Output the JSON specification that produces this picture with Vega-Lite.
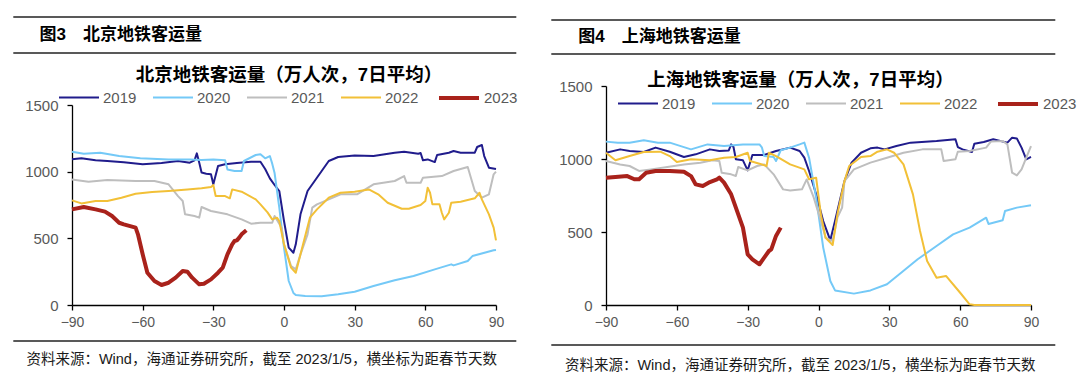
{
  "$schema": "https://vega.github.io/schema/vega-lite/v6.json",
  "padding": {"left": 12, "top": 16, "right": 0, "bottom": 0},
  "background": "white",
  "spacing": 32,
  "resolve": {"scale": {"color": "independent", "strokeWidth": "independent"}, "legend": {"color": "independent"}},
  "datasets": {
    "bj": [
      {"year":"2019","day":-90,"value":1093},{"year":"2019","day":-86,"value":1100},{"year":"2019","day":-80,"value":1085},{"year":"2019","day":-75,"value":1080},{"year":"2019","day":-68,"value":1070},{"year":"2019","day":-60,"value":1055},{"year":"2019","day":-52,"value":1065},{"year":"2019","day":-45,"value":1080},{"year":"2019","day":-40,"value":1067},{"year":"2019","day":-38,"value":1085},{"year":"2019","day":-37,"value":1137},{"year":"2019","day":-36,"value":1068},{"year":"2019","day":-35,"value":993},{"year":"2019","day":-33,"value":985},{"year":"2019","day":-31,"value":980},{"year":"2019","day":-30,"value":905},{"year":"2019","day":-28,"value":1042},{"year":"2019","day":-25,"value":1055},{"year":"2019","day":-20,"value":1065},{"year":"2019","day":-14,"value":1075},{"year":"2019","day":-10,"value":1075},{"year":"2019","day":-8,"value":1020},{"year":"2019","day":-6,"value":950},{"year":"2019","day":-4,"value":900},{"year":"2019","day":-2,"value":855},{"year":"2019","day":0,"value":630},{"year":"2019","day":2,"value":430},{"year":"2019","day":4,"value":392},{"year":"2019","day":5,"value":455},{"year":"2019","day":7,"value":680},{"year":"2019","day":10,"value":855},{"year":"2019","day":13,"value":930},{"year":"2019","day":16,"value":1005},{"year":"2019","day":19,"value":1080},{"year":"2019","day":23,"value":1110},{"year":"2019","day":30,"value":1122},{"year":"2019","day":38,"value":1117},{"year":"2019","day":47,"value":1142},{"year":"2019","day":51,"value":1150},{"year":"2019","day":57,"value":1135},{"year":"2019","day":58,"value":1140},{"year":"2019","day":59,"value":1085},{"year":"2019","day":61,"value":1092},{"year":"2019","day":64,"value":1072},{"year":"2019","day":65,"value":1125},{"year":"2019","day":70,"value":1142},{"year":"2019","day":72,"value":1155},{"year":"2019","day":75,"value":1142},{"year":"2019","day":81,"value":1142},{"year":"2019","day":82,"value":1185},{"year":"2019","day":84,"value":1200},{"year":"2019","day":85,"value":1117},{"year":"2019","day":87,"value":1030},{"year":"2019","day":90,"value":1020},
      {"year":"2020","day":-90,"value":1150},{"year":"2020","day":-85,"value":1135},{"year":"2020","day":-78,"value":1142},{"year":"2020","day":-70,"value":1117},{"year":"2020","day":-61,"value":1100},{"year":"2020","day":-49,"value":1092},{"year":"2020","day":-40,"value":1092},{"year":"2020","day":-35,"value":1087},{"year":"2020","day":-30,"value":1092},{"year":"2020","day":-25,"value":1085},{"year":"2020","day":-24,"value":1017},{"year":"2020","day":-21,"value":1005},{"year":"2020","day":-18,"value":1005},{"year":"2020","day":-17,"value":1080},{"year":"2020","day":-12,"value":1125},{"year":"2020","day":-10,"value":1130},{"year":"2020","day":-8,"value":1100},{"year":"2020","day":-6,"value":1117},{"year":"2020","day":-5,"value":1060},{"year":"2020","day":-4,"value":990},{"year":"2020","day":-2,"value":730},{"year":"2020","day":0,"value":430},{"year":"2020","day":2,"value":180},{"year":"2020","day":4,"value":90},{"year":"2020","day":5,"value":75},{"year":"2020","day":9,"value":67},{"year":"2020","day":16,"value":65},{"year":"2020","day":23,"value":80},{"year":"2020","day":30,"value":100},{"year":"2020","day":38,"value":142},{"year":"2020","day":47,"value":185},{"year":"2020","day":55,"value":217},{"year":"2020","day":64,"value":267},{"year":"2020","day":71,"value":305},{"year":"2020","day":72,"value":297},{"year":"2020","day":78,"value":330},{"year":"2020","day":80,"value":367},{"year":"2020","day":89,"value":410},{"year":"2020","day":90,"value":412},
      {"year":"2021","day":-90,"value":942},{"year":"2021","day":-83,"value":925},{"year":"2021","day":-75,"value":937},{"year":"2021","day":-63,"value":930},{"year":"2021","day":-55,"value":930},{"year":"2021","day":-49,"value":905},{"year":"2021","day":-45,"value":817},{"year":"2021","day":-43,"value":780},{"year":"2021","day":-42,"value":680},{"year":"2021","day":-38,"value":667},{"year":"2021","day":-36,"value":655},{"year":"2021","day":-35,"value":735},{"year":"2021","day":-31,"value":705},{"year":"2021","day":-24,"value":680},{"year":"2021","day":-18,"value":642},{"year":"2021","day":-14,"value":610},{"year":"2021","day":-10,"value":617},{"year":"2021","day":-5,"value":617},{"year":"2021","day":-4,"value":667},{"year":"2021","day":-1,"value":580},{"year":"2021","day":0,"value":455},{"year":"2021","day":3,"value":292},{"year":"2021","day":5,"value":267},{"year":"2021","day":7,"value":380},{"year":"2021","day":10,"value":530},{"year":"2021","day":12,"value":730},{"year":"2021","day":14,"value":755},{"year":"2021","day":19,"value":792},{"year":"2021","day":24,"value":830},{"year":"2021","day":31,"value":830},{"year":"2021","day":38,"value":905},{"year":"2021","day":47,"value":930},{"year":"2021","day":51,"value":967},{"year":"2021","day":52,"value":917},{"year":"2021","day":58,"value":917},{"year":"2021","day":59,"value":955},{"year":"2021","day":67,"value":967},{"year":"2021","day":72,"value":1005},{"year":"2021","day":78,"value":1035},{"year":"2021","day":81,"value":855},{"year":"2021","day":84,"value":805},{"year":"2021","day":87,"value":830},{"year":"2021","day":89,"value":980},{"year":"2021","day":90,"value":1000},
      {"year":"2022","day":-90,"value":785},{"year":"2022","day":-86,"value":762},{"year":"2022","day":-80,"value":780},{"year":"2022","day":-75,"value":780},{"year":"2022","day":-69,"value":805},{"year":"2022","day":-63,"value":835},{"year":"2022","day":-56,"value":847},{"year":"2022","day":-49,"value":855},{"year":"2022","day":-41,"value":867},{"year":"2022","day":-35,"value":875},{"year":"2022","day":-31,"value":885},{"year":"2022","day":-30,"value":900},{"year":"2022","day":-29,"value":817},{"year":"2022","day":-25,"value":817},{"year":"2022","day":-23,"value":800},{"year":"2022","day":-22,"value":867},{"year":"2022","day":-18,"value":850},{"year":"2022","day":-12,"value":792},{"year":"2022","day":-10,"value":755},{"year":"2022","day":-7,"value":695},{"year":"2022","day":-5,"value":642},{"year":"2022","day":-3,"value":655},{"year":"2022","day":-2,"value":630},{"year":"2022","day":0,"value":455},{"year":"2022","day":3,"value":280},{"year":"2022","day":5,"value":242},{"year":"2022","day":7,"value":380},{"year":"2022","day":11,"value":655},{"year":"2022","day":14,"value":717},{"year":"2022","day":19,"value":805},{"year":"2022","day":24,"value":842},{"year":"2022","day":30,"value":850},{"year":"2022","day":36,"value":867},{"year":"2022","day":40,"value":830},{"year":"2022","day":44,"value":767},{"year":"2022","day":50,"value":722},{"year":"2022","day":53,"value":722},{"year":"2022","day":58,"value":750},{"year":"2022","day":60,"value":780},{"year":"2022","day":61,"value":880},{"year":"2022","day":62,"value":842},{"year":"2022","day":63,"value":755},{"year":"2022","day":66,"value":755},{"year":"2022","day":67,"value":692},{"year":"2022","day":68,"value":642},{"year":"2022","day":70,"value":692},{"year":"2022","day":71,"value":767},{"year":"2022","day":75,"value":775},{"year":"2022","day":81,"value":800},{"year":"2022","day":83,"value":842},{"year":"2022","day":84,"value":792},{"year":"2022","day":87,"value":680},{"year":"2022","day":89,"value":580},{"year":"2022","day":90,"value":485},
      {"year":"2023","day":-90,"value":717},{"year":"2023","day":-85,"value":735},{"year":"2023","day":-80,"value":717},{"year":"2023","day":-76,"value":700},{"year":"2023","day":-73,"value":667},{"year":"2023","day":-70,"value":617},{"year":"2023","day":-68,"value":605},{"year":"2023","day":-63,"value":580},{"year":"2023","day":-62,"value":530},{"year":"2023","day":-60,"value":380},{"year":"2023","day":-58,"value":242},{"year":"2023","day":-55,"value":180},{"year":"2023","day":-52,"value":150},{"year":"2023","day":-49,"value":167},{"year":"2023","day":-46,"value":205},{"year":"2023","day":-43,"value":255},{"year":"2023","day":-41,"value":250},{"year":"2023","day":-39,"value":205},{"year":"2023","day":-36,"value":155},{"year":"2023","day":-34,"value":160},{"year":"2023","day":-31,"value":192},{"year":"2023","day":-28,"value":242},{"year":"2023","day":-26,"value":280},{"year":"2023","day":-24,"value":380},{"year":"2023","day":-22,"value":455},{"year":"2023","day":-21,"value":480},{"year":"2023","day":-20,"value":485},{"year":"2023","day":-19,"value":505},{"year":"2023","day":-18,"value":530},{"year":"2023","day":-16,"value":560}
    ],
    "sh": [
      {"year":"2019","day":-90,"value":1043},{"year":"2019","day":-84,"value":1066},{"year":"2019","day":-80,"value":1055},{"year":"2019","day":-74,"value":1048},{"year":"2019","day":-69,"value":1078},{"year":"2019","day":-63,"value":1050},{"year":"2019","day":-57,"value":1014},{"year":"2019","day":-52,"value":1032},{"year":"2019","day":-46,"value":1066},{"year":"2019","day":-42,"value":1055},{"year":"2019","day":-38,"value":1059},{"year":"2019","day":-37,"value":1100},{"year":"2019","day":-36,"value":1082},{"year":"2019","day":-35,"value":998},{"year":"2019","day":-32,"value":991},{"year":"2019","day":-30,"value":922},{"year":"2019","day":-28,"value":1027},{"year":"2019","day":-23,"value":1027},{"year":"2019","day":-18,"value":1055},{"year":"2019","day":-12,"value":1078},{"year":"2019","day":-8,"value":1055},{"year":"2019","day":-6,"value":1009},{"year":"2019","day":-4,"value":918},{"year":"2019","day":-1,"value":758},{"year":"2019","day":2,"value":575},{"year":"2019","day":5,"value":443},{"year":"2019","day":7,"value":575},{"year":"2019","day":11,"value":849},{"year":"2019","day":14,"value":975},{"year":"2019","day":18,"value":1043},{"year":"2019","day":22,"value":1073},{"year":"2019","day":25,"value":1078},{"year":"2019","day":28,"value":1066},{"year":"2019","day":33,"value":1089},{"year":"2019","day":39,"value":1112},{"year":"2019","day":50,"value":1123},{"year":"2019","day":58,"value":1135},{"year":"2019","day":59,"value":1082},{"year":"2019","day":61,"value":1066},{"year":"2019","day":65,"value":1048},{"year":"2019","day":66,"value":1105},{"year":"2019","day":70,"value":1116},{"year":"2019","day":74,"value":1135},{"year":"2019","day":80,"value":1112},{"year":"2019","day":82,"value":1146},{"year":"2019","day":84,"value":1141},{"year":"2019","day":86,"value":1078},{"year":"2019","day":88,"value":998},{"year":"2019","day":90,"value":1014},
      {"year":"2020","day":-90,"value":1119},{"year":"2020","day":-85,"value":1112},{"year":"2020","day":-80,"value":1112},{"year":"2020","day":-74,"value":1128},{"year":"2020","day":-68,"value":1112},{"year":"2020","day":-63,"value":1112},{"year":"2020","day":-54,"value":1066},{"year":"2020","day":-47,"value":1100},{"year":"2020","day":-40,"value":1089},{"year":"2020","day":-32,"value":1100},{"year":"2020","day":-25,"value":1100},{"year":"2020","day":-24,"value":1080},{"year":"2020","day":-23,"value":1020},{"year":"2020","day":-19,"value":1014},{"year":"2020","day":-18,"value":986},{"year":"2020","day":-16,"value":1060},{"year":"2020","day":-12,"value":1078},{"year":"2020","day":-8,"value":1100},{"year":"2020","day":-6,"value":1112},{"year":"2020","day":-4,"value":1009},{"year":"2020","day":-1,"value":735},{"year":"2020","day":2,"value":393},{"year":"2020","day":5,"value":164},{"year":"2020","day":7,"value":100},{"year":"2020","day":15,"value":78},{"year":"2020","day":22,"value":100},{"year":"2020","day":29,"value":142},{"year":"2020","day":35,"value":221},{"year":"2020","day":42,"value":313},{"year":"2020","day":50,"value":404},{"year":"2020","day":57,"value":484},{"year":"2020","day":64,"value":530},{"year":"2020","day":71,"value":598},{"year":"2020","day":72,"value":555},{"year":"2020","day":78,"value":580},{"year":"2020","day":79,"value":644},{"year":"2020","day":84,"value":667},{"year":"2020","day":90,"value":683},
      {"year":"2021","day":-90,"value":986},{"year":"2021","day":-84,"value":963},{"year":"2021","day":-80,"value":952},{"year":"2021","day":-76,"value":918},{"year":"2021","day":-71,"value":929},{"year":"2021","day":-64,"value":945},{"year":"2021","day":-57,"value":963},{"year":"2021","day":-50,"value":975},{"year":"2021","day":-45,"value":991},{"year":"2021","day":-42,"value":986},{"year":"2021","day":-41,"value":906},{"year":"2021","day":-37,"value":895},{"year":"2021","day":-35,"value":884},{"year":"2021","day":-34,"value":945},{"year":"2021","day":-30,"value":922},{"year":"2021","day":-26,"value":952},{"year":"2021","day":-23,"value":963},{"year":"2021","day":-19,"value":895},{"year":"2021","day":-15,"value":792},{"year":"2021","day":-12,"value":785},{"year":"2021","day":-7,"value":792},{"year":"2021","day":-5,"value":860},{"year":"2021","day":-2,"value":735},{"year":"2021","day":1,"value":575},{"year":"2021","day":3,"value":461},{"year":"2021","day":6,"value":438},{"year":"2021","day":8,"value":598},{"year":"2021","day":10,"value":667},{"year":"2021","day":11,"value":849},{"year":"2021","day":15,"value":929},{"year":"2021","day":22,"value":975},{"year":"2021","day":29,"value":1009},{"year":"2021","day":36,"value":1043},{"year":"2021","day":44,"value":1066},{"year":"2021","day":52,"value":1066},{"year":"2021","day":53,"value":986},{"year":"2021","day":58,"value":998},{"year":"2021","day":59,"value":1050},{"year":"2021","day":64,"value":1055},{"year":"2021","day":71,"value":1078},{"year":"2021","day":73,"value":1119},{"year":"2021","day":78,"value":1123},{"year":"2021","day":80,"value":1100},{"year":"2021","day":82,"value":906},{"year":"2021","day":84,"value":888},{"year":"2021","day":86,"value":929},{"year":"2021","day":88,"value":1009},{"year":"2021","day":90,"value":1089},
      {"year":"2022","day":-90,"value":1043},{"year":"2022","day":-86,"value":991},{"year":"2022","day":-80,"value":1020},{"year":"2022","day":-74,"value":1048},{"year":"2022","day":-67,"value":1050},{"year":"2022","day":-63,"value":1020},{"year":"2022","day":-60,"value":979},{"year":"2022","day":-54,"value":998},{"year":"2022","day":-46,"value":991},{"year":"2022","day":-40,"value":1009},{"year":"2022","day":-35,"value":1014},{"year":"2022","day":-30,"value":1043},{"year":"2022","day":-29,"value":986},{"year":"2022","day":-25,"value":968},{"year":"2022","day":-22,"value":952},{"year":"2022","day":-21,"value":1043},{"year":"2022","day":-18,"value":1020},{"year":"2022","day":-12,"value":963},{"year":"2022","day":-6,"value":929},{"year":"2022","day":-4,"value":861},{"year":"2022","day":-1,"value":872},{"year":"2022","day":1,"value":621},{"year":"2022","day":3,"value":461},{"year":"2022","day":6,"value":411},{"year":"2022","day":8,"value":621},{"year":"2022","day":11,"value":849},{"year":"2022","day":13,"value":952},{"year":"2022","day":18,"value":1014},{"year":"2022","day":22,"value":1020},{"year":"2022","day":25,"value":1050},{"year":"2022","day":29,"value":1066},{"year":"2022","day":32,"value":1043},{"year":"2022","day":36,"value":963},{"year":"2022","day":40,"value":758},{"year":"2022","day":43,"value":507},{"year":"2022","day":46,"value":301},{"year":"2022","day":50,"value":187},{"year":"2022","day":54,"value":199},{"year":"2022","day":60,"value":84},{"year":"2022","day":64,"value":5},{"year":"2022","day":66,"value":0},{"year":"2022","day":70,"value":0},{"year":"2022","day":75,"value":0},{"year":"2022","day":80,"value":0},{"year":"2022","day":85,"value":0},{"year":"2022","day":90,"value":0},
      {"year":"2023","day":-90,"value":872},{"year":"2023","day":-86,"value":877},{"year":"2023","day":-81,"value":883},{"year":"2023","day":-78,"value":861},{"year":"2023","day":-76,"value":861},{"year":"2023","day":-73,"value":906},{"year":"2023","day":-69,"value":918},{"year":"2023","day":-63,"value":918},{"year":"2023","day":-57,"value":913},{"year":"2023","day":-54,"value":883},{"year":"2023","day":-52,"value":826},{"year":"2023","day":-49,"value":815},{"year":"2023","day":-46,"value":842},{"year":"2023","day":-43,"value":861},{"year":"2023","day":-42,"value":872},{"year":"2023","day":-40,"value":838},{"year":"2023","day":-37,"value":758},{"year":"2023","day":-35,"value":667},{"year":"2023","day":-32,"value":530},{"year":"2023","day":-30,"value":347},{"year":"2023","day":-28,"value":313},{"year":"2023","day":-25,"value":279},{"year":"2023","day":-23,"value":324},{"year":"2023","day":-21,"value":370},{"year":"2023","day":-20,"value":381},{"year":"2023","day":-18,"value":473},{"year":"2023","day":-16,"value":530}
    ]
  },
  "hconcat": [
    {
      "concat": [
        {
          "width": 424, "height": 36,
          "data": {"values": [{"label": "图3　北京地铁客运量"}]},
          "layer": [
            {"mark": {"type": "rule", "color": "#222222", "strokeWidth": 1.5}, "encoding": {"x": {"datum": 0, "type": "quantitative", "scale": {"domain": [0, 1], "range": [-58.7, 444.3]}, "axis": null}, "x2": {"datum": 1}, "y": {"datum": 1, "type": "quantitative", "scale": {"domain": [0, 1]}, "axis": null}}},
            {"mark": {"type": "rule", "color": "#222222", "strokeWidth": 1.5}, "encoding": {"x": {"datum": 0, "type": "quantitative"}, "x2": {"datum": 1}, "y": {"datum": 0, "type": "quantitative"}}},
            {"mark": {"type": "text", "align": "left", "baseline": "middle", "fontSize": 17, "fontWeight": "bold", "color": "#000000"}, "encoding": {"x": {"datum": 0.052, "type": "quantitative"}, "y": {"datum": 0.5, "type": "quantitative"}, "text": {"field": "label"}}}
          ]
        },
        {
          "concat": [
            {
              "width": 424, "height": 200,
              "data": {"name": "bj"},
              "title": {"text": "北京地铁客运量（万人次，7日平均）", "frame": "group", "anchor": "middle", "baseline": "middle", "offset": -17.5, "dx": 5},
              "mark": {"type": "line", "strokeJoin": "round"},
              "encoding": {
                "x": {"field": "day", "type": "quantitative", "scale": {"domain": [-90, 90], "nice": false}, "axis": {"values": [-90, -60, -30, 0, 30, 60, 90], "labelFlush": false, "minExtent": 35, "labelPadding": 5}},
                "y": {"field": "value", "type": "quantitative", "scale": {"domain": [0, 1500], "nice": false}, "axis": {"values": [0, 500, 1000, 1500], "format": "d", "minExtent": 58.7, "labelPadding": 9, "labelFontSize": 15}},
                "color": {"field": "year", "type": "nominal", "scale": {"domain": ["2019", "2020", "2021", "2022", "2023"], "range": ["#201C8C", "#74C9F7", "#BEBEBE", "#F2C037", "#A9221B"]}, "legend": {"legendX": -14, "legendY": -29, "encode": {"symbols": {"update": {"strokeWidth": {"signal": "datum.value === '2023' ? 4.5 : 2"}}}}}},
                "strokeWidth": {"field": "year", "type": "nominal", "scale": {"type": "ordinal", "domain": ["2019", "2020", "2021", "2022", "2023"], "range": [2, 2, 2, 2, 4]}, "legend": null}
              }
            },
            {
              "width": 424, "height": 38,
              "data": {"values": [{"label": "资料来源：Wind，海通证券研究所，截至 2023/1/5，横坐标为距春节天数"}]},
              "layer": [
                {"mark": {"type": "rule", "color": "#222222", "strokeWidth": 1.5}, "encoding": {"x": {"datum": 0, "type": "quantitative", "scale": {"domain": [0, 1], "range": [-58.7, 444.3]}, "axis": null}, "x2": {"datum": 1}, "y": {"datum": 1, "type": "quantitative", "scale": {"domain": [0, 1]}, "axis": null}}},
                {"mark": {"type": "text", "align": "left", "baseline": "middle", "fontSize": 14.5, "color": "#1A1A1A"}, "encoding": {"x": {"datum": 0.026, "type": "quantitative"}, "y": {"datum": 0.5, "type": "quantitative"}, "text": {"field": "label"}}}
              ]
            }
          ],
          "columns": 1, "spacing": 0,
          "resolve": {"scale": {"color": "independent", "strokeWidth": "independent"}, "legend": {"color": "independent"}}
        }
      ],
      "columns": 1, "spacing": 12,
      "resolve": {"scale": {"color": "independent", "strokeWidth": "independent"}, "legend": {"color": "independent"}}
    },
    {
      "concat": [
        {
          "width": 425, "height": 37,
          "data": {"values": [{"label": "图4　上海地铁客运量"}]},
          "layer": [
            {"mark": {"type": "rule", "color": "#222222", "strokeWidth": 1.5}, "encoding": {"x": {"datum": 0, "type": "quantitative", "scale": {"domain": [0, 1], "range": [-54.7, 449.3]}, "axis": null}, "x2": {"datum": 1}, "y": {"datum": 0.919, "type": "quantitative", "scale": {"domain": [0, 1]}, "axis": null}}},
            {"mark": {"type": "rule", "color": "#222222", "strokeWidth": 1.5}, "encoding": {"x": {"datum": 0, "type": "quantitative"}, "x2": {"datum": 1}, "y": {"datum": 0, "type": "quantitative"}}},
            {"mark": {"type": "text", "align": "left", "baseline": "middle", "fontSize": 17, "fontWeight": "bold", "color": "#000000"}, "encoding": {"x": {"datum": 0.0536, "type": "quantitative"}, "y": {"datum": 0.46, "type": "quantitative"}, "text": {"field": "label"}}}
          ]
        },
        {
          "concat": [
            {
              "width": 425, "height": 219,
              "data": {"name": "sh"},
              "title": {"text": "上海地铁客运量（万人次，7日平均）", "frame": "group", "anchor": "middle", "baseline": "middle", "offset": -19, "dx": -18},
              "mark": {"type": "line", "strokeJoin": "round"},
              "encoding": {
                "x": {"field": "day", "type": "quantitative", "scale": {"domain": [-90, 90], "nice": false}, "axis": {"values": [-90, -60, -30, 0, 30, 60, 90], "labelFlush": false, "minExtent": 39, "labelPadding": 5}},
                "y": {"field": "value", "type": "quantitative", "scale": {"domain": [0, 1500], "nice": false}, "axis": {"values": [0, 500, 1000, 1500], "format": "d", "minExtent": 54.7, "labelPadding": 9, "labelFontSize": 15}},
                "color": {"field": "year", "type": "nominal", "scale": {"domain": ["2019", "2020", "2021", "2022", "2023"], "range": ["#201C8C", "#74C9F7", "#BEBEBE", "#F2C037", "#A9221B"]}, "legend": {"legendX": 11, "legendY": -4, "encode": {"symbols": {"update": {"strokeWidth": {"signal": "datum.value === '2023' ? 4.5 : 2"}}}}}},
                "strokeWidth": {"field": "year", "type": "nominal", "scale": {"type": "ordinal", "domain": ["2019", "2020", "2021", "2022", "2023"], "range": [2, 2, 2, 2, 4]}, "legend": null}
              }
            },
            {
              "width": 425, "height": 38,
              "data": {"values": [{"label": "资料来源：Wind，海通证券研究所，截至 2023/1/5，横坐标为距春节天数"}]},
              "layer": [
                {"mark": {"type": "rule", "color": "#222222", "strokeWidth": 1.5}, "encoding": {"x": {"datum": 0, "type": "quantitative", "scale": {"domain": [0, 1], "range": [-54.7, 449.3]}, "axis": null}, "x2": {"datum": 1}, "y": {"datum": 1, "type": "quantitative", "scale": {"domain": [0, 1]}, "axis": null}}},
                {"mark": {"type": "text", "align": "left", "baseline": "middle", "fontSize": 14.5, "color": "#1A1A1A"}, "encoding": {"x": {"datum": 0.027, "type": "quantitative"}, "y": {"datum": 0.45, "type": "quantitative"}, "text": {"field": "label"}}}
              ]
            }
          ],
          "columns": 1, "spacing": 0,
          "resolve": {"scale": {"color": "independent", "strokeWidth": "independent"}, "legend": {"color": "independent"}}
        }
      ],
      "columns": 1, "spacing": 15,
      "resolve": {"scale": {"color": "independent", "strokeWidth": "independent"}, "legend": {"color": "independent"}}
    }
  ],
  "config": {
    "view": {"stroke": null},
    "font": "Liberation Sans, Noto Sans CJK SC",
    "axis": {"grid": false, "title": null, "domainColor": "#000000", "domainWidth": 1.3, "tickColor": "#000000", "tickWidth": 1.3, "tickSize": 5, "labelColor": "#595959", "labelFont": "Liberation Sans", "labelFontSize": 14},
    "legend": {"orient": "none", "direction": "horizontal", "title": null, "padding": 0, "symbolType": "stroke", "symbolSize": 1600, "symbolStrokeWidth": 2, "labelFont": "Liberation Sans", "labelFontSize": 15, "labelColor": "#595959", "labelOffset": 3, "columnPadding": 12, "symbolOpacity": 1},
    "title": {"font": "Liberation Sans, Noto Sans CJK SC", "fontSize": 18.5, "fontWeight": "bold", "color": "#000000"}
  }
}
